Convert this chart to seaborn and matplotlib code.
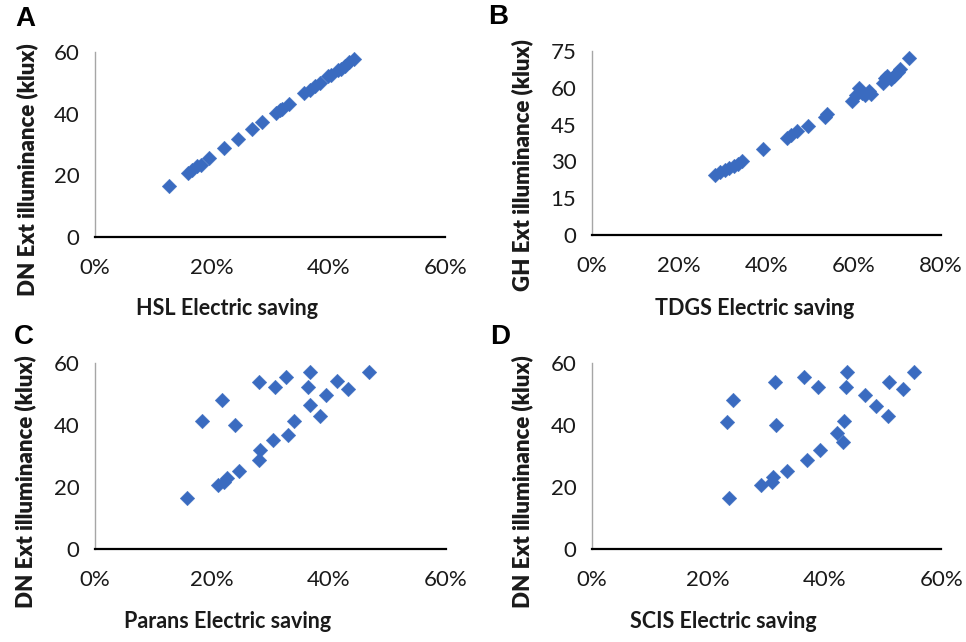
import matplotlib
matplotlib.use("Agg")
import matplotlib.pyplot as plt
import seaborn as sns
import pandas as pd

# ---- data ----
hsl_saving = [12.7, 15.9, 16.7, 17.5, 18.2, 19.5, 22.1, 24.5, 27.0, 28.6, 31.0, 31.8,
              32.1, 33.2, 35.8, 36.8, 37.8, 38.6, 40.0, 40.4, 41.6, 42.2, 42.8, 43.6, 44.4]
dn_illum_a = [16.6, 20.8, 21.7, 23.0, 23.4, 25.6, 28.8, 31.8, 35.0, 37.3, 40.1, 41.2,
              41.5, 43.0, 46.5, 47.6, 48.8, 49.8, 52.0, 52.4, 54.1, 54.3, 55.5, 56.6, 57.5]

tdgs_saving = [28.3, 29.4, 30.5, 31.5, 32.6, 33.6, 34.3, 39.3, 44.7, 45.6, 47.0, 49.6,
               53.5, 53.9, 59.6, 60.6, 61.2, 61.8, 62.5, 63.4, 64.0, 66.7, 67.2, 67.7,
               68.5, 69.3, 70.1, 70.6, 72.7]
gh_illum = [24.6, 25.5, 26.4, 27.4, 28.3, 29.1, 30.0, 34.9, 39.6, 40.8, 42.3, 44.4,
            48.0, 49.2, 54.5, 57.0, 59.8, 58.0, 57.2, 58.6, 57.5, 62.0, 64.0, 64.8,
            63.4, 65.0, 66.5, 67.8, 72.0]

parans_saving = [15.7, 18.4, 21.7, 21.0, 22.0, 22.6, 24.0, 24.7, 28.0, 28.1, 28.3, 30.5,
                 30.8, 32.7, 33.0, 34.0, 36.7, 36.4, 36.8, 38.5, 39.5, 41.3, 43.2, 46.8]
dn_illum_c = [16.4, 41.2, 48.2, 20.7, 21.7, 22.8, 40.1, 25.3, 54.1, 28.8, 32.0, 35.1,
              52.3, 55.5, 36.8, 41.5, 57.3, 52.4, 46.5, 43.0, 49.8, 54.3, 51.6, 57.3]

scis_saving = [23.3, 24.2, 23.6, 29.1, 31.0, 31.2, 31.5, 31.6, 33.5, 36.4, 37.0, 38.8,
               39.2, 42.1, 43.2, 43.4, 43.6, 43.8, 47.0, 48.8, 50.8, 51.0, 53.5, 55.4]
dn_illum_d = [41.2, 48.2, 16.6, 20.7, 21.8, 23.2, 54.1, 40.1, 25.4, 55.5, 28.8, 52.3,
              32.0, 37.4, 34.7, 41.5, 52.4, 57.3, 49.8, 46.2, 43.1, 54.1, 51.6, 57.3]

panels = [
    dict(letter="A", x=hsl_saving, y=dn_illum_a, xlab="HSL Electric saving",
         ylab="DN Ext illuminance (klux)", xmax=60, xstep=20, ymax=60, ystep=20,
         rect=[0.098, 0.6304, 0.3628, 0.2891],
         xlab_pos=(227, 308), ylab_pos=(27, 170), let_pos=(25, 19)),
    dict(letter="B", x=tdgs_saving, y=gh_illum, xlab="TDGS Electric saving",
         ylab="GH Ext illuminance (klux)", xmax=80, xstep=20, ymax=75, ystep=15,
         rect=[0.6125, 0.634, 0.3618, 0.2866],
         xlab_pos=(755, 308), ylab_pos=(522, 165), let_pos=(498, 17)),
    dict(letter="C", x=parans_saving, y=dn_illum_c, xlab="Parans Electric saving",
         ylab="DN Ext illuminance (klux)", xmax=60, xstep=20, ymax=60, ystep=20,
         rect=[0.098, 0.1449, 0.3638, 0.2893],
         xlab_pos=(228, 622), ylab_pos=(25, 482), let_pos=(24, 337)),
    dict(letter="D", x=scis_saving, y=dn_illum_d, xlab="SCIS Electric saving",
         ylab="DN Ext illuminance (klux)", xmax=60, xstep=20, ymax=60, ystep=20,
         rect=[0.6125, 0.1443, 0.3618, 0.2898],
         xlab_pos=(723, 621), ylab_pos=(522, 482), let_pos=(500, 337)),
]

sns.set_theme(style="white")
plt.rcParams['font.family'] = ['Lato', 'DejaVu Sans']

W, H = 966, 642
fig = plt.figure(figsize=(W / 100, H / 100), dpi=100)
fig.patch.set_facecolor("white")

marker_color = "#3A6BC0"

for p in panels:
    ax = fig.add_axes(p["rect"])
    df = pd.DataFrame({"saving": p["x"], "illum": p["y"]})
    sns.scatterplot(data=df, x="saving", y="illum", ax=ax, marker="D", s=55,
                    color=marker_color, edgecolor=marker_color, linewidth=0.3)
    ax.set_xlim(0, p["xmax"])
    ax.set_ylim(0, p["ymax"])
    ax.set_xticks(range(0, p["xmax"] + 1, p["xstep"]))
    ax.set_yticks(range(0, p["ymax"] + 1, p["ystep"]))
    ax.set_xticklabels([f"{v}%" for v in range(0, p["xmax"] + 1, p["xstep"])])
    ax.set_xlabel("")
    ax.set_ylabel("")
    for s in ["top", "right"]:
        ax.spines[s].set_visible(False)
    ax.spines["left"].set_color("#A6A6A6")
    ax.spines["left"].set_linewidth(1.0)
    ax.spines["bottom"].set_color("black")
    ax.spines["bottom"].set_linewidth(1.6)
    ax.tick_params(axis="x", direction="out", length=6, width=1.6, color="black",
                   labelsize=16, labelcolor="#1a1a1a", pad=9)
    ax.tick_params(axis="y", direction="out", length=5, width=1.0, color="#A6A6A6",
                   labelsize=16, labelcolor="#1a1a1a", pad=6)
    ax.grid(False)
    ax.set_facecolor("white")

    fig.text(p["xlab_pos"][0] / W, 1 - p["xlab_pos"][1] / H, p["xlab"],
             ha="center", va="center", fontsize=15.5, fontweight="bold", color="#1a1a1a")
    fig.text(p["ylab_pos"][0] / W, 1 - p["ylab_pos"][1] / H, p["ylab"],
             ha="center", va="center", rotation=90, fontsize=16,
             fontweight="heavy", color="#1a1a1a")
    fig.text(p["let_pos"][0] / W, 1 - p["let_pos"][1] / H, p["letter"],
             ha="center", va="center", fontsize=20, fontweight="bold",
             family=["Liberation Sans", "DejaVu Sans"], color="black")

fig.savefig("out.png", dpi=100, facecolor="white")
